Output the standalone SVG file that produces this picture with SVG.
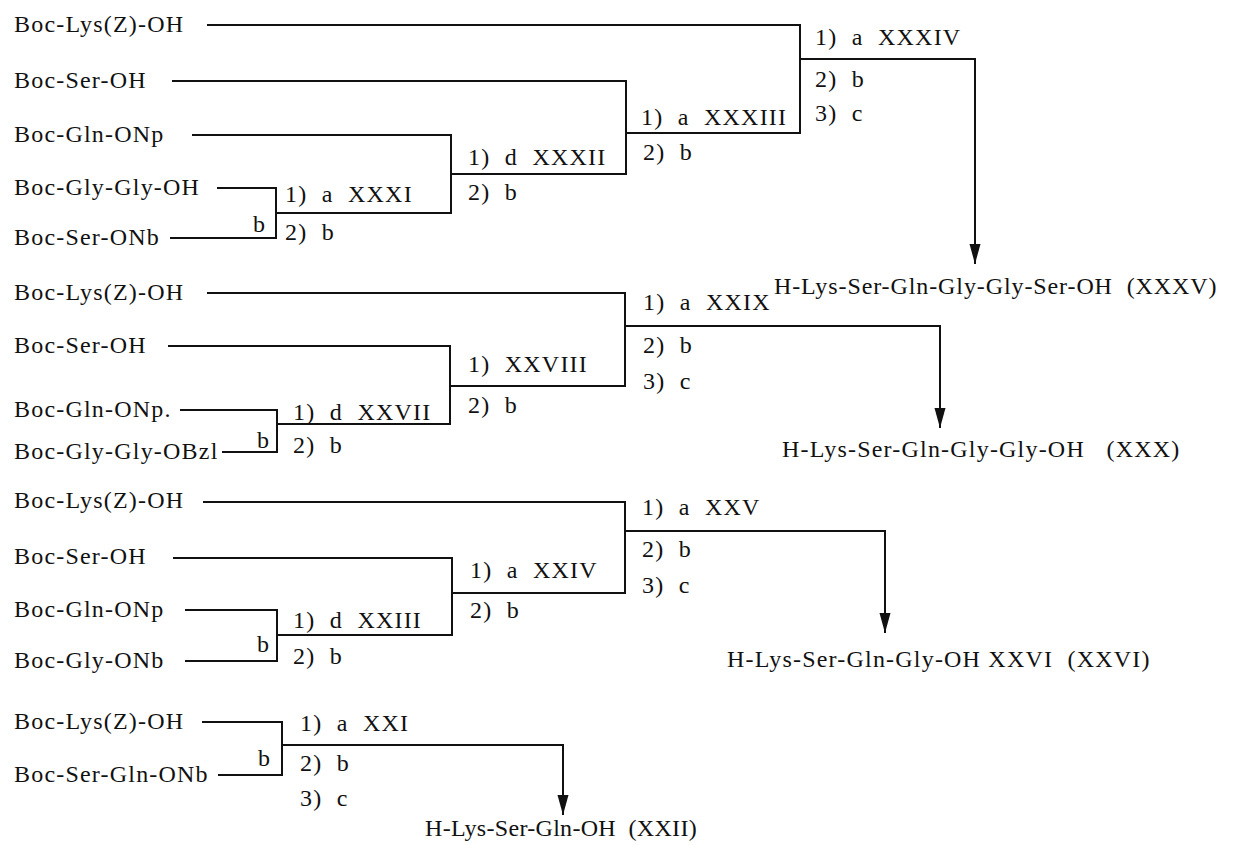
<svg xmlns="http://www.w3.org/2000/svg" width="1240" height="845" viewBox="0 0 1240 845" xml:space="preserve">
<style>
text{font-family:"Liberation Serif","Times New Roman",serif;font-size:24px;fill:#111;letter-spacing:1.2px;white-space:pre}
.ln{fill:none;stroke:#111;stroke-width:2}
</style>
<defs>
<marker id="ah" markerUnits="userSpaceOnUse" markerWidth="22" markerHeight="12" refX="20" refY="5.5" orient="auto" viewBox="0 0 22 11">
<path d="M0,0 L20,5.5 L0,11 z" fill="#111"/>
</marker>
</defs>
<rect width="1240" height="845" fill="#fff"/>
<g id="connectors">
<path class="ln" d="M207 25 H800 V133 H626"/>
<path class="ln" d="M172 81 H626 V174 H451"/>
<path class="ln" d="M192 135 H451 V213 H276"/>
<path class="ln" d="M217 188 H276 V238 H170"/>
<path class="ln" d="M800 59 H975 V264" marker-end="url(#ah)"/>
<path class="ln" d="M207 293 H625 V386 H450"/>
<path class="ln" d="M168 346 H450 V424 H277"/>
<path class="ln" d="M180 410 H277 V452 H222"/>
<path class="ln" d="M625 326 H940 V428" marker-end="url(#ah)"/>
<path class="ln" d="M203 502 H625 V593 H452"/>
<path class="ln" d="M173 558 H452 V635 H277"/>
<path class="ln" d="M185 610 H277 V661 H185"/>
<path class="ln" d="M625 531 H885 V633" marker-end="url(#ah)"/>
<path class="ln" d="M202 722 H282 V775 H218"/>
<path class="ln" d="M282 745 H563 V815" marker-end="url(#ah)"/>
</g>
<g id="labels">
<text x="253" y="232">b</text>
<text x="285" y="202">1)  a  XXXI</text>
<text x="285" y="240">2)  b</text>
<text x="468" y="165">1)  d  XXXII</text>
<text x="468" y="200">2)  b</text>
<text x="641" y="125">1)  a  XXXIII</text>
<text x="643" y="160">2)  b</text>
<text x="815" y="45">1)  a  XXXIV</text>
<text x="815" y="87">2)  b</text>
<text x="815" y="121">3)  c</text>
<text x="257" y="448">b</text>
<text x="293" y="420">1)  d  XXVII</text>
<text x="293" y="453">2)  b</text>
<text x="468" y="372">1)  XXVIII</text>
<text x="468" y="413">2)  b</text>
<text x="643" y="310">1)  a  XXIX</text>
<text x="643" y="353">2)  b</text>
<text x="643" y="389">3)  c</text>
<text x="257" y="652">b</text>
<text x="293" y="628">1)  d  XXIII</text>
<text x="293" y="664">2)  b</text>
<text x="470" y="578">1)  a  XXIV</text>
<text x="470" y="618">2)  b</text>
<text x="642" y="515">1)  a  XXV</text>
<text x="642" y="557">2)  b</text>
<text x="642" y="593">3)  c</text>
<text x="258" y="766">b</text>
<text x="300" y="731">1)  a  XXI</text>
<text x="300" y="771">2)  b</text>
<text x="300" y="806">3)  c</text>
</g>
<g id="n1-lys"><text x="14" y="32">Boc-Lys(Z)-OH</text></g>
<g id="n1-ser"><text x="14" y="88">Boc-Ser-OH</text></g>
<g id="n1-gln"><text x="14" y="142">Boc-Gln-ONp</text></g>
<g id="n1-glygly"><text x="14" y="195">Boc-Gly-Gly-OH</text></g>
<g id="n1-seronb"><text x="14" y="245">Boc-Ser-ONb</text></g>
<g id="p-xxxv"><text x="774" y="294" style="letter-spacing:0.9px">H-Lys-Ser-Gln-Gly-Gly-Ser-OH  (XXXV)</text></g>
<g id="n2-lys"><text x="14" y="300">Boc-Lys(Z)-OH</text></g>
<g id="n2-ser"><text x="14" y="353">Boc-Ser-OH</text></g>
<g id="n2-gln"><text x="14" y="417">Boc-Gln-ONp.</text></g>
<g id="n2-obzl"><text x="14" y="459">Boc-Gly-Gly-OBzl</text></g>
<g id="p-xxx"><text x="782" y="457">H-Lys-Ser-Gln-Gly-Gly-OH   (XXX)</text></g>
<g id="n3-lys"><text x="14" y="508">Boc-Lys(Z)-OH</text></g>
<g id="n3-ser"><text x="14" y="564">Boc-Ser-OH</text></g>
<g id="n3-gln"><text x="14" y="617">Boc-Gln-ONp</text></g>
<g id="n3-glyonb"><text x="14" y="668">Boc-Gly-ONb</text></g>
<g id="p-xxvi"><text x="727" y="667">H-Lys-Ser-Gln-Gly-OH XXVI  (XXVI)</text></g>
<g id="n4-lys"><text x="14" y="729">Boc-Lys(Z)-OH</text></g>
<g id="n4-sergln"><text x="14" y="782">Boc-Ser-Gln-ONb</text></g>
<g id="p-xxii"><text x="425" y="836" style="letter-spacing:0.3px">H-Lys-Ser-Gln-OH  (XXII)</text></g>
</svg>
